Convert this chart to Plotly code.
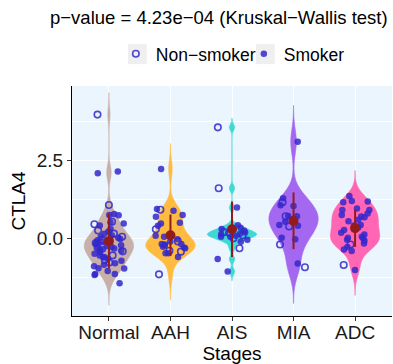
import numpy as np
import plotly.graph_objects as go

# CTLA4 expression by lesion stage, split by smoking status
stages = ["Normal", "AAH", "AIS", "MIA", "ADC"]

normal_smoker = [2.09, 2.15, 0.78, 0.75, 0.74, 0.52, 0.48, 0.41, 0.30, 0.22, 0.15, 0.10,
                 0.05, 0.02, -0.02, -0.06, -0.10, -0.12, -0.18, -0.22, -0.25, -0.30, -0.33,
                 -0.38, -0.40, -0.45, -0.50, -0.55, -0.60, -0.65, -0.72, -0.80, -0.85, -0.90,
                 -0.96, -0.97, -1.05, -1.15, -1.15, -1.18, -1.45, -0.28, -0.35, -0.62, -0.15]
normal_nonsmoker = [3.98, 1.07, 0.53, 0.45, 0.25, 0.05, -0.15, -0.30, -0.42, -0.55, -0.70,
                    -0.78, 0.15, -0.05]

aah_smoker = [2.23, 0.94, 0.89, 0.75, 0.69, 0.50, 0.48, 0.40, 0.08, 0.05, -0.03, -0.10,
              -0.18, -0.18, -0.22, -0.27, -0.32, -0.30, -0.48, -0.48, -0.20, -0.60]
aah_nonsmoker = [0.92, 0.29, -0.43, -0.40, -1.16, -0.10]

ais_smoker = [0.99, 0.42, 0.34, 0.19, 0.13, 0.08, 0.05, 0.05, -0.11, 0.25, 0.15, -0.67,
              -1.07, 0.30, -0.05]
ais_nonsmoker = [3.57, 1.61, 0.18, 0.20, 0.10, -0.32, 0.00]

mia_smoker = [3.11, 1.29, 1.04, 1.06, 0.71, 0.53, 0.43, 0.02, -0.03, -0.81, 0.72, 0.40]
mia_nonsmoker = [1.16, 0.71, 0.38, -0.20, -0.93]

adc_smoker = [1.36, 1.20, 1.18, 1.16, 0.91, 0.96, 0.91, 0.80, 0.70, 0.75, 0.68, 0.43, 0.27,
              0.41, 0.18, 0.12, 0.05, -0.08, 0.00, 0.02, -0.17, -0.28, -0.36, -0.41, -1.02,
              0.55, 0.60, 0.35, -0.05]
adc_nonsmoker = [-0.20, -0.86]

smoker = [normal_smoker, aah_smoker, ais_smoker, mia_smoker, adc_smoker]
nonsmoker = [normal_nonsmoker, aah_nonsmoker, ais_nonsmoker, mia_nonsmoker, adc_nonsmoker]

y_tickvals = [0.0, 2.5]
y_ticktext = ["0.0", "2.5"]
y_minor_gridvals = [-1.25, 1.25, 3.75]

violin_colors = ["#C8AFA9", "#FFBB40", "#3FD8D4", "#A468F0", "#FF66B3"]
point_color = "rgba(52,40,205,0.85)"
mean_color = "#921C1C"
title_text = "p\u2212value = 4.23e\u221204 (Kruskal\u2212Wallis test)"


def nrd0(v):
    """Silverman's rule of thumb (R's bw.nrd0)."""
    v = np.asarray(v, dtype=float)
    sd = v.std(ddof=1)
    q75, q25 = np.percentile(v, [75, 25])
    lo = min(sd, (q75 - q25) / 1.34)
    return 0.9 * lo * len(v) ** -0.2


fig = go.Figure()

# violins (untrimmed: density extends 3 bandwidths past the data)
for i, st in enumerate(stages):
    vals = np.array(smoker[i] + nonsmoker[i], dtype=float)
    bw = nrd0(vals)
    fig.add_trace(go.Violin(
        x=[i] * len(vals), y=vals, name=st, width=0.8,
        bandwidth=bw, spanmode="manual", span=[vals.min() - 3 * bw, vals.max() + 3 * bw],
        fillcolor=violin_colors[i], line=dict(color=violin_colors[i], width=0.6),
        points=False, box_visible=False, meanline_visible=False,
        hoverinfo="skip", showlegend=False,
    ))

# jittered points
rng = np.random.default_rng(11)
xs_non, ys_non, xs_smk, ys_smk = [], [], [], []
for i in range(len(stages)):
    xs_non += list(i + rng.uniform(-0.25, 0.25, len(nonsmoker[i])))
    ys_non += nonsmoker[i]
    xs_smk += list(i + rng.uniform(-0.25, 0.25, len(smoker[i])))
    ys_smk += smoker[i]

fig.add_trace(go.Scatter(
    x=xs_non, y=ys_non, mode="markers", name="Non\u2212smoker",
    marker=dict(symbol="circle-open", size=6.5, color=point_color, line=dict(width=1.6)),
))
fig.add_trace(go.Scatter(
    x=xs_smk, y=ys_smk, mode="markers", name="Smoker",
    marker=dict(symbol="circle", size=6.5, color=point_color, line=dict(width=0)),
))

# mean +/- sd
means = [float(np.mean(s + n)) for s, n in zip(smoker, nonsmoker)]
sds = [float(np.std(s + n, ddof=1)) for s, n in zip(smoker, nonsmoker)]
fig.add_trace(go.Scatter(
    x=list(range(len(stages))), y=means, mode="markers", showlegend=False,
    marker=dict(size=10, color=mean_color),
    error_y=dict(type="data", array=sds, width=0, thickness=2, color=mean_color),
))

# grey key backgrounds for the legend symbols
for x0 in (0.175, 0.575):
    fig.add_shape(type="rect", xref="paper", yref="paper", x0=x0, x1=x0 + 0.059,
                  y0=1.095, y1=1.182, fillcolor="#EFEFEF", line=dict(width=0), layer="below")

fig.update_layout(
    width=393, height=364,
    margin=dict(l=72, r=1, t=86, b=48),
    paper_bgcolor="white", plot_bgcolor="#EBF5FD",
    font=dict(family="Liberation Sans, Arial, sans-serif", size=19, color="#1a1a1a"),
    title=dict(text=title_text, x=50 / 393, xanchor="left", y=1 - 18 / 364, yanchor="middle",
               xref="container", yref="container", font=dict(size=18.5, color="black")),
    violinmode="overlay",
    legend=dict(orientation="h", x=0.137, y=1.14, xanchor="left", yanchor="middle",
                font=dict(size=17.5, color="black"), bgcolor="rgba(0,0,0,0)",
                entrywidth=83, entrywidthmode="pixels"),
    xaxis=dict(range=[-0.6, 4.6], tickmode="array", tickvals=list(range(len(stages))),
               ticktext=stages, showgrid=True, gridcolor="white", gridwidth=1.3,
               zeroline=False, showline=True, linecolor="black", linewidth=1.2,
               ticks="outside", ticklen=4, tickcolor="#333", ticklabelstandoff=-5,
               title=dict(text="Stages", standoff=4, font=dict(size=19, color="black"))),
    yaxis=dict(range=[-2.5, 4.9], tickmode="array", tickvals=y_tickvals, ticktext=y_ticktext,
               showgrid=True, gridcolor="white", gridwidth=1.3,
               minor=dict(tickmode="array", tickvals=y_minor_gridvals, showgrid=True,
                          gridcolor="white", gridwidth=0.6, ticks=""),
               zeroline=False, showline=True, linecolor="black", linewidth=1.2,
               ticks="outside", ticklen=4, tickcolor="#333",
               title=dict(text="CTLA4", standoff=6, font=dict(size=19, color="black"))),
)

fig.write_html("out.html", config={"displayModeBar": False})
